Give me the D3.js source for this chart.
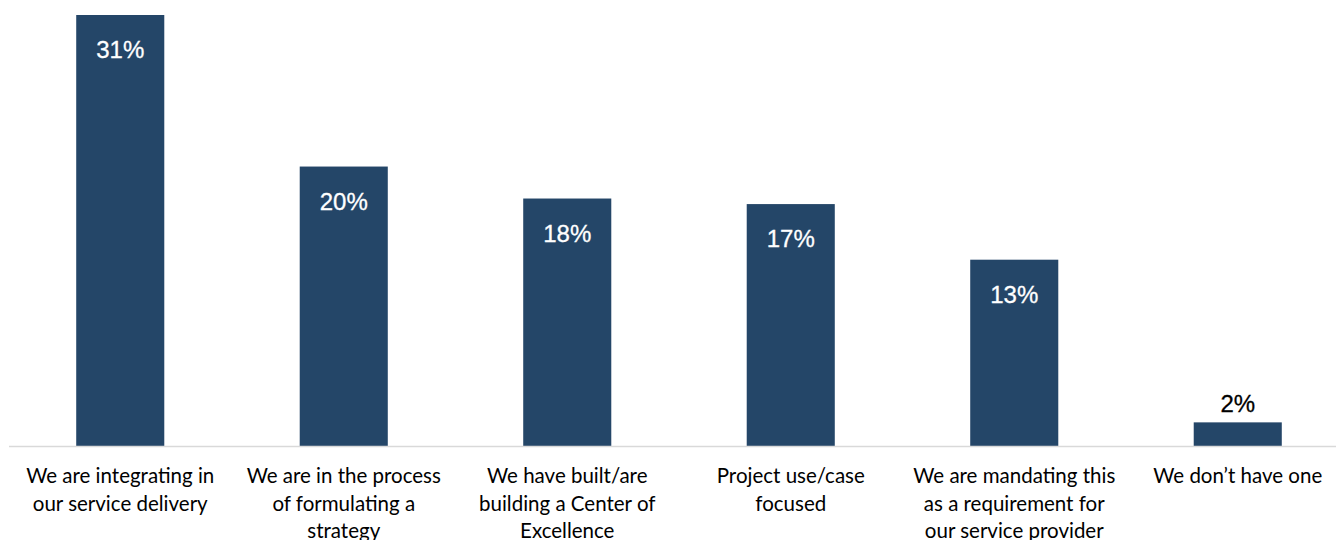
<!DOCTYPE html>
<html>
<head>
<meta charset="utf-8">
<script src="https://cdn.jsdelivr.net/npm/d3@7"></script>
<style>
  html, body { margin: 0; padding: 0; background: #fff; }
  svg { display: block; }
</style>
</head>
<body>
<svg id="chart" width="1336" height="540"></svg>
<script>
// Survey answers, share of respondents
const categories = [
  'We are integrating in\nour service delivery',
  'We are in the process\nof formulating a\nstrategy',
  'We have built/are\nbuilding a Center of\nExcellence',
  'Project use/case\nfocused',
  'We are mandating this\nas a requirement for\nour service provider',
  'We don\u2019t have one'
];
const values = [31, 20.1, 17.8, 17.4, 13.4, 1.7];
const valueLabels = ['31%', '20%', '18%', '17%', '13%', '2%'];

const width = 1336;
const height = 540;
const baseline = 446;

const svg = d3.select('#chart');

const x = d3.scaleBand()
  .domain(categories)
  .range([8.5, 1349.5])
  .paddingInner(0.606)
  .paddingOuter(0.303);

const y = d3.scaleLinear()
  .domain([0, 31])
  .range([baseline, 15]);

// bars
svg.append('g')
  .selectAll('rect')
  .data(values)
  .join('rect')
    .attr('x', (d, i) => x(categories[i]))
    .attr('y', d => y(d))
    .attr('width', x.bandwidth())
    .attr('height', d => baseline - y(d))
    .attr('fill', '#244668');

// baseline
svg.append('line')
  .attr('x1', 9).attr('x2', width)
  .attr('y1', baseline + 0.5).attr('y2', baseline + 0.5)
  .attr('stroke', '#d9d9d9')
  .attr('stroke-width', 1.5);

// value labels: inside tall bars, above short ones
svg.append('g')
  .selectAll('text')
  .data(values)
  .join('text')
    .attr('x', (d, i) => x(categories[i]) + x.bandwidth() / 2)
    .attr('y', d => (baseline - y(d) > 60 ? y(d) + 43 : y(d) - 10))
    .attr('text-anchor', 'middle')
    .attr('font-family', '"Liberation Sans", Arial, sans-serif')
    .attr('font-size', 24)
    .attr('fill', d => (baseline - y(d) > 60 ? '#fff' : '#000'))
    .attr('stroke', d => (baseline - y(d) > 60 ? '#fff' : '#000'))
    .attr('stroke-width', 0.3)
    .text((d, i) => valueLabels[i]);

// category labels
const labels = svg.append('g')
  .selectAll('text')
  .data(categories)
  .join('text')
    .attr('x', d => x(d) + x.bandwidth() / 2)
    .attr('y', 483)
    .attr('text-anchor', 'middle')
    .attr('font-family', 'Lato, "Open Sans", sans-serif')
    .attr('font-size', 20.5)
    .attr('fill', '#000');

labels.selectAll('tspan')
  .data(d => d.split('\n'))
  .join('tspan')
    .attr('x', function () { return d3.select(this.parentNode).attr('x'); })
    .attr('dy', (d, i) => (i === 0 ? 0 : 27.5))
    .text(d => d);
</script>
</body>
</html>
